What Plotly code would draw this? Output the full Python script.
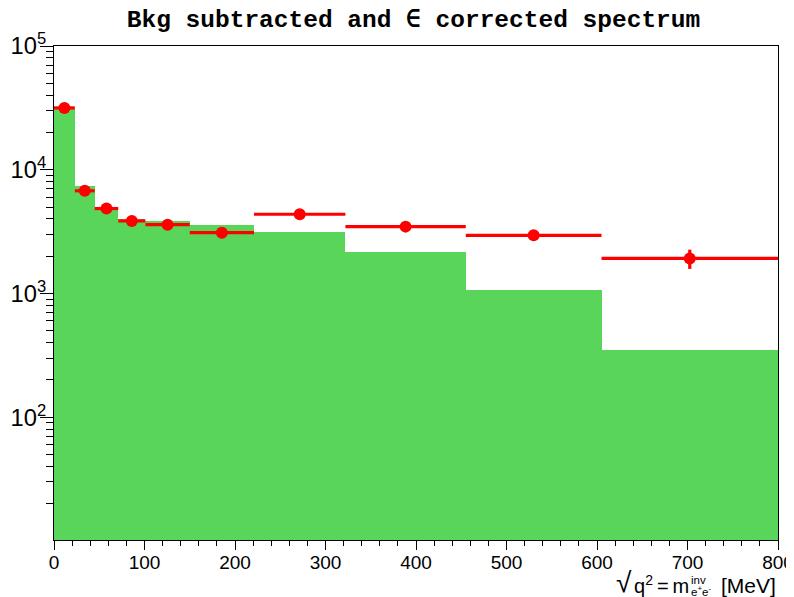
import plotly.graph_objects as go

# Data
bin_edges = [0, 23, 45, 71, 101, 150, 221, 322, 455, 605, 800]
bkg_hist = [30800, 7330, 5040, 4010, 3830, 3580, 3120, 2170, 1065, 349]
corr_vals = [31600, 6760, 4860, 3860, 3600, 3100, 4370, 3470, 2950, 1920]
corr_errs = [900, 250, 170, 130, 120, 110, 200, 170, 160, 340]
x_tick_vals = [0, 100, 200, 300, 400, 500, 600, 700, 800]

centers = [(a + b) / 2 for a, b in zip(bin_edges[:-1], bin_edges[1:])]
widths = [b - a for a, b in zip(bin_edges[:-1], bin_edges[1:])]
half_w = [w / 2 for w in widths]

GREEN = "rgb(89,213,89)"
RED = "rgb(255,0,0)"

# The page body has an 8px default margin; size the figure so it fits the window.
OFF = 8
W, H = 794 - OFF, 597 - OFF
PL, PR, PT, PB = 54, 778, 46, 540   # plot area in window pixels


def px(xw):
    return (xw - PL) / (PR - PL)


def py(yw):
    return (PB - yw) / (PB - PT)


fig = go.Figure()
fig.add_trace(go.Bar(
    x=centers, y=bkg_hist, width=widths,
    marker=dict(color=GREEN, line=dict(width=0)),
    showlegend=False, hoverinfo="skip",
))
fig.add_trace(go.Scatter(
    x=centers, y=corr_vals, mode="markers",
    marker=dict(color=RED, size=12, symbol="circle"),
    error_x=dict(type="data", array=half_w, thickness=3.2, width=0, color=RED),
    error_y=dict(type="data", array=corr_errs, thickness=3.2, width=0, color=RED),
    showlegend=False,
))

FAM = "Liberation Sans, Arial, sans-serif"
axis_font = dict(family=FAM, size=19, color="black")
title_font = dict(family=FAM, size=20, color="black")
small_font = dict(family=FAM, size=11.5, color="black")

fig.update_layout(
    width=W, height=H,
    margin=dict(l=PL - OFF, r=794 - PR, t=PT - OFF, b=597 - PB, autoexpand=False),
    paper_bgcolor="white", plot_bgcolor="white",
    bargap=0,
    title=dict(
        text="Bkg subtracted and ∈ corrected spectrum",
        font=dict(family="Liberation Mono, Courier New, monospace", size=24.5, color="black", weight="bold"),
        x=(413.5 - OFF) / W, xanchor="center", xref="container",
        y=1 - (18.5 - OFF) / H, yref="container", yanchor="middle",
        automargin=False,
    ),
    xaxis=dict(
        range=[0, 800], tickvals=x_tick_vals, ticks="outside", ticklen=9, tickwidth=1,
        tickcolor="black", showline=True, linecolor="black", linewidth=1, mirror=True,
        showgrid=False, zeroline=False, tickfont=axis_font, automargin=False,
        ticklabelstandoff=-4,
        minor=dict(ticks="outside", dtick=20, ticklen=5, tickcolor="black", showgrid=False),
    ),
    yaxis=dict(
        type="log", range=[1.008, 5], dtick=1, exponentformat="power",
        ticks="outside", ticklen=13, tickwidth=1, tickcolor="black",
        showline=True, linecolor="black", linewidth=1, mirror=True,
        showgrid=False, zeroline=False, tickfont=axis_font, automargin=False,
        ticklabelstandoff=-10,
        minor=dict(ticks="outside", dtick="D1", ticklen=7, tickcolor="black", showgrid=False),
    ),
)

# x-axis title (right-aligned, ROOT style)
fig.add_annotation(text="√", xref="paper", yref="paper",
                   x=px(634), y=py(582), xanchor="right", yanchor="middle",
                   showarrow=False, font=dict(family=FAM, size=28, color="black"))
fig.add_annotation(text="q<sup>2</sup>\u2009=\u2009m", xref="paper", yref="paper",
                   x=px(632), y=py(584), xanchor="left", yanchor="middle",
                   showarrow=False, font=title_font)
fig.add_annotation(text="inv", xref="paper", yref="paper",
                   x=px(689), y=py(580), xanchor="left", yanchor="middle",
                   showarrow=False, font=small_font)
fig.add_annotation(text="e<sup>+</sup>e<sup>-</sup>", xref="paper", yref="paper",
                   x=px(689), y=py(591), xanchor="left", yanchor="middle",
                   showarrow=False, font=small_font)
fig.add_annotation(text="[MeV]", xref="paper", yref="paper",
                   x=1.0, y=py(585), xanchor="right", yanchor="middle",
                   showarrow=False, font=dict(family=FAM, size=21, color="black"))

fig.write_html("out.html")
